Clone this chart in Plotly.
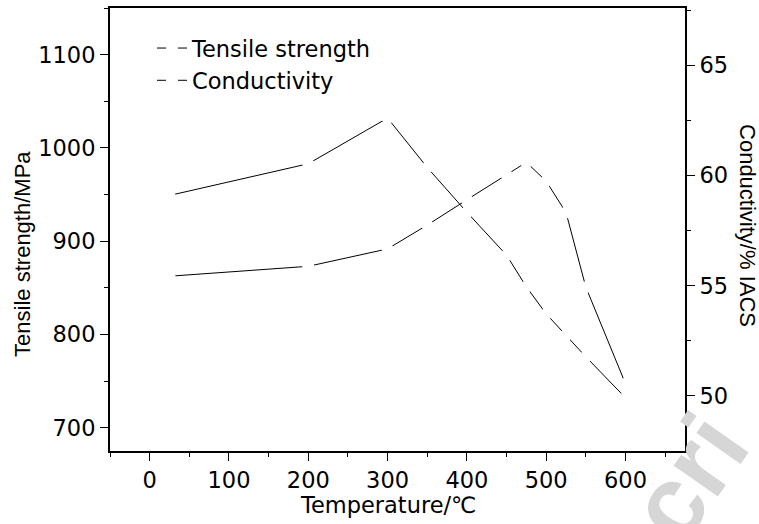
import plotly.graph_objects as go

temperature = [25, 200, 300, 350, 400, 450, 475, 500, 525, 550, 600]
tensile_strength = [949, 983, 1032, 979, 931, 885, 851, 822, 799, 776, 732]
conductivity = [55.43, 55.88, 56.67, 57.75, 58.9, 60.04, 60.6, 59.74, 58.32, 54.93, 50.55]

x_ticks = [0, 100, 200, 300, 400, 500, 600]
y_ticks = [700, 800, 900, 1000, 1100]
y2_ticks = [50, 55, 60, 65]

W, H = 759, 524
L, R, T, B = 110, 74, 6, 73
pw, ph = W - L - R, H - T - B

def px(xp):
    return (xp - L) / pw

def py(yp):
    return (H - B - yp) / ph

FONT_H = "DejaVu Sans, sans-serif"
FONT_V = "Liberation Sans, Arial, sans-serif"

fig = go.Figure()
fig.add_trace(go.Scatter(
    x=temperature, y=tensile_strength, name="Tensile strength",
    mode="lines+markers",
    line=dict(color="black", width=1),
    marker=dict(color="white", size=12, line=dict(width=0)),
))
fig.add_trace(go.Scatter(
    x=temperature, y=conductivity, name="Conductivity", yaxis="y2",
    mode="lines+markers",
    line=dict(color="black", width=1),
    marker=dict(color="white", size=12, line=dict(width=0)),
))

axis_common = dict(
    showgrid=False, zeroline=False, showline=True, linecolor="black",
    ticks="outside", ticklen=8, tickwidth=1.3, tickcolor="black",
    tickfont=dict(family=FONT_H, size=22.5, color="black"),
)

fig.update_layout(
    width=W, height=H,
    margin=dict(l=L, r=R, t=T, b=B, pad=0),
    paper_bgcolor="white", plot_bgcolor="white",
    font=dict(family=FONT_H, color="black"),
    showlegend=True,
    legend=dict(
        x=px(152), y=py(25), xanchor="left", yanchor="top",
        bgcolor="rgba(0,0,0,0)", borderwidth=0,
        font=dict(family=FONT_H, size=22.5, color="black"),
        itemwidth=30, tracegroupgap=0,
    ),
    xaxis=dict(
        range=[-50, 675], tickvals=x_ticks, linewidth=1.8, mirror=True,
        minor=dict(dtick=50, tick0=0, ticklen=4, tickwidth=1.2, tickcolor="black", ticks="outside"),
        **axis_common,
    ),
    yaxis=dict(
        range=[675, 1150], tickvals=y_ticks, linewidth=2,
        minor=dict(dtick=50, tick0=0, ticklen=4, tickwidth=1.2, tickcolor="black", ticks="outside"),
        **axis_common,
    ),
    yaxis2=dict(
        range=[47.5, 67.6], tickvals=y2_ticks, overlaying="y", side="right", linewidth=1.8,
        minor=dict(dtick=2.5, tick0=0, ticklen=4, tickwidth=1.2, tickcolor="black", ticks="outside"),
        **axis_common,
    ),
    annotations=[
        dict(text="<b>cri</b>", xref="paper", yref="paper", x=px(688), y=py(478),
             textangle=-55, showarrow=False, font=dict(family=FONT_V, size=102, color="#d6d6d6"),
             xanchor="center", yanchor="middle"),
        dict(text="Tensile strength/MPa", xref="paper", yref="paper", x=px(23), y=py(253),
             textangle=-90, showarrow=False, font=dict(family=FONT_V, size=22, color="black"),
             xanchor="center", yanchor="middle"),
        dict(text="Conductivity/% IACS", xref="paper", yref="paper", x=px(748), y=py(224),
             textangle=90, showarrow=False, font=dict(family=FONT_V, size=22, color="black"),
             xanchor="center", yanchor="middle"),
        dict(text="Temperature/℃", xref="paper", yref="paper", x=px(388), y=py(505),
             showarrow=False, font=dict(family=FONT_H, size=22.5, color="black"),
             xanchor="center", yanchor="middle"),
    ],
)

fig.write_html("out.html")
